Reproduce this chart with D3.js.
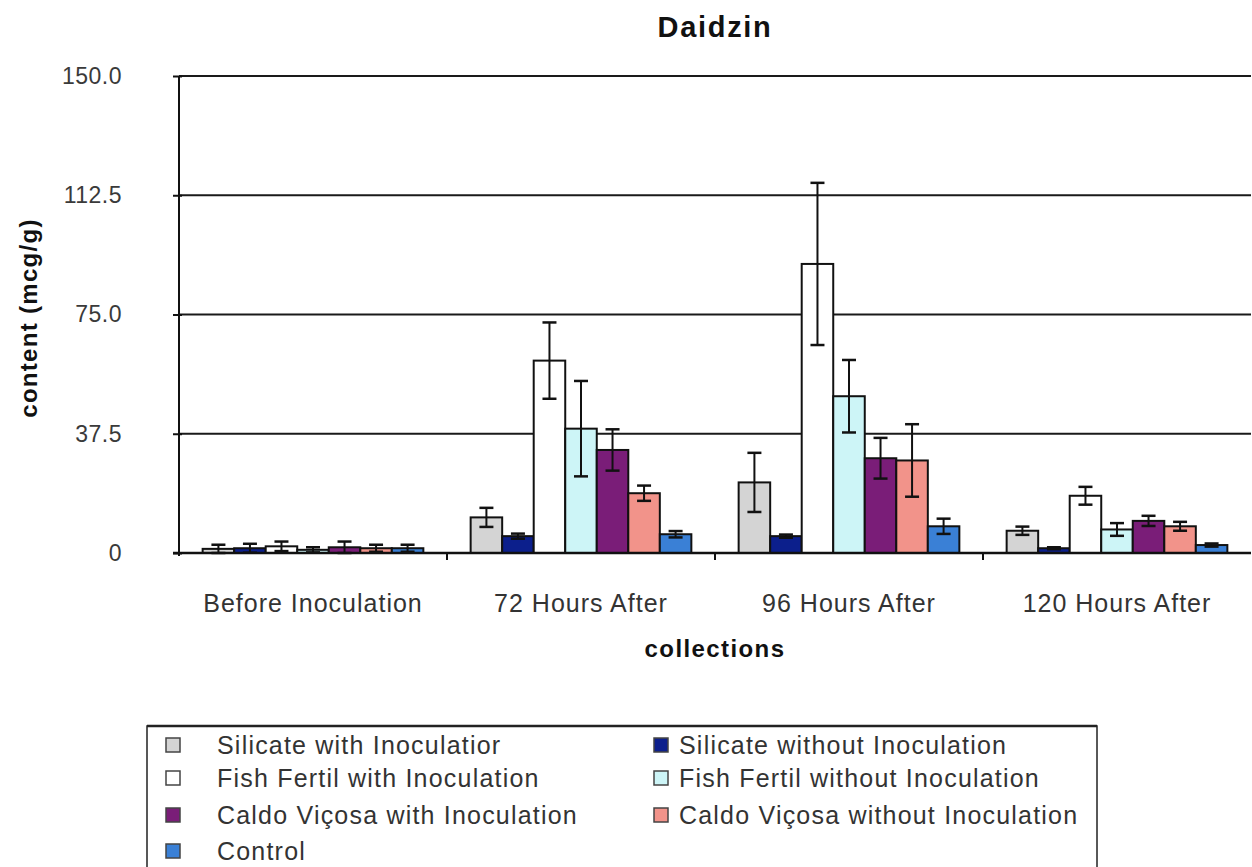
<!DOCTYPE html>
<html>
<head>
<meta charset="utf-8">
<script src="https://cdn.jsdelivr.net/npm/d3@7/dist/d3.min.js"></script>
<style>
  html, body { margin: 0; padding: 0; background: #fff; }
  svg { display: block; font-family: "Liberation Sans", Arial, sans-serif; }
</style>
</head>
<body>
<svg id="chart" width="1252" height="867"></svg>
<script>
// Daidzin content per collection time, mean and error for each treatment
const categories = ["Before Inoculation", "72 Hours After", "96 Hours After", "120 Hours After"];
const seriesNames = [
  "Silicate with Inoculation", "Silicate without Inoculation",
  "Fish Fertil with Inoculation", "Fish Fertil without Inoculation",
  "Caldo Viçosa with Inoculation", "Caldo Viçosa without Inoculation",
  "Control"
];
const legendLabels = [
  "Silicate with Inoculatior", "Silicate without Inoculation",
  "Fish Fertil with Inoculation", "Fish Fertil without Inoculation",
  "Caldo Viçosa with Inoculation", "Caldo Viçosa without Inoculation",
  "Control"
];
const seriesColors = ["#d4d4d4", "#0c1f8c", "#ffffff", "#cdf5f7", "#7a1d78", "#f2938a", "#3a80d6"];

const silicateWith       = [1.3, 11.2, 22.2, 7.0];
const silicateWithout    = [1.5, 5.3, 5.3, 1.5];
const fishWith           = [2.1, 60.5, 90.9, 18.0];
const fishWithout        = [1.0, 39.1, 49.3, 7.4];
const caldoWith          = [1.8, 32.4, 29.8, 10.1];
const caldoWithout       = [1.5, 18.8, 29.1, 8.4];
const control            = [1.5, 5.9, 8.4, 2.5];

const silicateWithErr    = [1.3, 3.0, 9.3, 1.3];
const silicateWithoutErr = [1.4, 0.8, 0.5, 0.3];
const fishWithErr        = [1.5, 12.0, 25.5, 2.8];
const fishWithoutErr     = [0.8, 15.0, 11.4, 2.0];
const caldoWithErr       = [1.8, 6.5, 6.4, 1.6];
const caldoWithoutErr    = [1.1, 2.4, 11.4, 1.4];
const controlErr         = [1.1, 1.0, 2.4, 0.5];

const yTickValues = [0, 37.5, 75, 112.5, 150];
const yTickLabels = ["0", "37.5", "75.0", "112.5", "150.0"];

const seriesValues = [silicateWith, silicateWithout, fishWith, fishWithout, caldoWith, caldoWithout, control];
const seriesErrors = [silicateWithErr, silicateWithoutErr, fishWithErr, fishWithoutErr, caldoWithErr, caldoWithoutErr, controlErr];

const rows = [];
categories.forEach((c, ci) => {
  seriesNames.forEach((s, si) => {
    rows.push({ cat: c, series: s, si, value: seriesValues[si][ci], err: seriesErrors[si][ci] });
  });
});

const svg = d3.select("#chart");
const plot = { left: 179, right: 1251, top: 76, bottom: 553 };

const x0 = d3.scaleBand().domain(categories).range([plot.left, plot.right]).padding(0);
// clustered bars with a 150% gap between clusters
const gapRatio = 1.5;
const barW = x0.bandwidth() / (seriesNames.length + gapRatio);
const x1 = d3.scaleBand().domain(seriesNames)
  .range([barW * gapRatio / 2, barW * gapRatio / 2 + barW * seriesNames.length]).padding(0);
const y = d3.scaleLinear().domain([0, 150]).range([plot.bottom, plot.top]);
const color = d3.scaleOrdinal().domain(seriesNames).range(seriesColors);

// Title
svg.append("text")
  .attr("x", (plot.left + plot.right) / 2).attr("y", 37)
  .attr("text-anchor", "middle")
  .style("font-size", "29px").style("font-weight", "bold").style("letter-spacing", "1.7px")
  .attr("fill", "#111")
  .text("Daidzin");

// Horizontal gridlines
svg.append("g")
  .selectAll("line")
  .data(yTickValues.filter(v => v > 0))
  .join("line")
  .attr("x1", plot.left).attr("x2", plot.right)
  .attr("y1", d => y(d)).attr("y2", d => y(d))
  .attr("stroke", "#1a1a1a").attr("stroke-width", 2);

// Y axis
const yAxis = d3.axisLeft(y).tickValues(yTickValues)
  .tickFormat((d, i) => yTickLabels[i]).tickSize(6).tickPadding(50);
const gy = svg.append("g").attr("transform", `translate(${plot.left},0)`).call(yAxis);
gy.select(".domain").attr("stroke", "#111").attr("stroke-width", 2)
  .attr("d", `M0,${plot.top}V${plot.bottom + 3}`);
gy.selectAll(".tick line").attr("stroke", "#111").attr("stroke-width", 2).attr("x1", 3);
gy.selectAll(".tick text")
  .attr("x", -57).attr("text-anchor", "end")
  .style("font-size", "23px").style("font-family", "'Liberation Sans', Arial, sans-serif")
  .style("letter-spacing", "0.5px")
  .attr("fill", "#3a3a3a");

// Bars
const groups = svg.append("g")
  .selectAll("g")
  .data(categories)
  .join("g")
  .attr("transform", d => `translate(${x0(d)},0)`);

groups.selectAll("rect")
  .data(c => rows.filter(r => r.cat === c))
  .join("rect")
  .attr("x", d => x1(d.series))
  .attr("y", d => y(d.value))
  .attr("width", x1.bandwidth())
  .attr("height", d => y(0) - y(d.value))
  .attr("fill", d => color(d.series))
  .attr("stroke", "#111").attr("stroke-width", 2);

// Error bars
const eb = groups.selectAll("g.err")
  .data(c => rows.filter(r => r.cat === c))
  .join("g").attr("class", "err");
const cap = 7;
eb.append("line")
  .attr("x1", d => x1(d.series) + x1.bandwidth() / 2)
  .attr("x2", d => x1(d.series) + x1.bandwidth() / 2)
  .attr("y1", d => y(d.value + d.err))
  .attr("y2", d => y(Math.max(0, d.value - d.err)))
  .attr("stroke", "#111").attr("stroke-width", 2);
eb.append("line")
  .attr("x1", d => x1(d.series) + x1.bandwidth() / 2 - cap)
  .attr("x2", d => x1(d.series) + x1.bandwidth() / 2 + cap)
  .attr("y1", d => y(d.value + d.err)).attr("y2", d => y(d.value + d.err))
  .attr("stroke", "#111").attr("stroke-width", 2.5);
eb.append("line")
  .attr("x1", d => x1(d.series) + x1.bandwidth() / 2 - cap)
  .attr("x2", d => x1(d.series) + x1.bandwidth() / 2 + cap)
  .attr("y1", d => y(Math.max(0, d.value - d.err))).attr("y2", d => y(Math.max(0, d.value - d.err)))
  .attr("stroke", "#111").attr("stroke-width", 2.5);

// X axis
const xAxis = d3.axisBottom(x0).tickSize(0).tickPadding(0);
const gx = svg.append("g").attr("transform", `translate(0,${plot.bottom})`).call(xAxis);
gx.select(".domain").attr("stroke", "#111").attr("stroke-width", 2.5)
  .attr("d", `M${plot.left - 6},0H${plot.right}`);
gx.selectAll(".tick text")
  .attr("y", 59).attr("dy", 0)
  .style("font-size", "25px").style("font-family", "'Liberation Sans', Arial, sans-serif")
  .style("letter-spacing", "1px")
  .attr("fill", "#333");
// category separators
svg.append("g")
  .selectAll("line")
  .data(categories.slice(1))
  .join("line")
  .attr("x1", d => x0(d)).attr("x2", d => x0(d))
  .attr("y1", plot.bottom).attr("y2", plot.bottom + 7)
  .attr("stroke", "#111").attr("stroke-width", 2);

// Axis titles
svg.append("text")
  .attr("x", (plot.left + plot.right) / 2).attr("y", 657)
  .attr("text-anchor", "middle")
  .style("font-size", "24px").style("font-weight", "bold").style("letter-spacing", "1.4px")
  .attr("fill", "#111")
  .text("collections");

svg.append("text")
  .attr("transform", "translate(37,318) rotate(-90)")
  .attr("text-anchor", "middle")
  .style("font-size", "24px").style("font-weight", "bold").style("letter-spacing", "1.3px")
  .attr("fill", "#111")
  .text("content (mcg/g)");

// Legend
const legend = svg.append("g");
legend.append("rect")
  .attr("x", 147).attr("y", 726).attr("width", 950).attr("height", 160)
  .attr("fill", "none").attr("stroke", "#222").attr("stroke-width", 1.5);
legend.append("line")
  .attr("x1", 147).attr("x2", 1097).attr("y1", 726).attr("y2", 726)
  .attr("stroke", "#222").attr("stroke-width", 2.5);

const legendRowY = [745, 778, 815, 851];
const legendItems = legend.selectAll("g.item")
  .data(seriesNames)
  .join("g").attr("class", "item")
  .attr("transform", (d, i) => {
    const col = i % 2, row = Math.floor(i / 2);
    return `translate(${col === 0 ? 166 : 654},${legendRowY[row]})`;
  });
legendItems.append("rect")
  .attr("x", 0).attr("y", -7).attr("width", 14).attr("height", 14)
  .attr("fill", d => color(d))
  .attr("stroke", "#444").attr("stroke-width", 1.5);
legendItems.append("text")
  .attr("x", (d, i) => i % 2 === 0 ? 51 : 25)
  .attr("y", 0).attr("dy", "0.36em")
  .style("font-size", "25px").style("letter-spacing", "1.2px")
  .attr("fill", "#333")
  .text((d, i) => legendLabels[i]);
</script>
</body>
</html>
